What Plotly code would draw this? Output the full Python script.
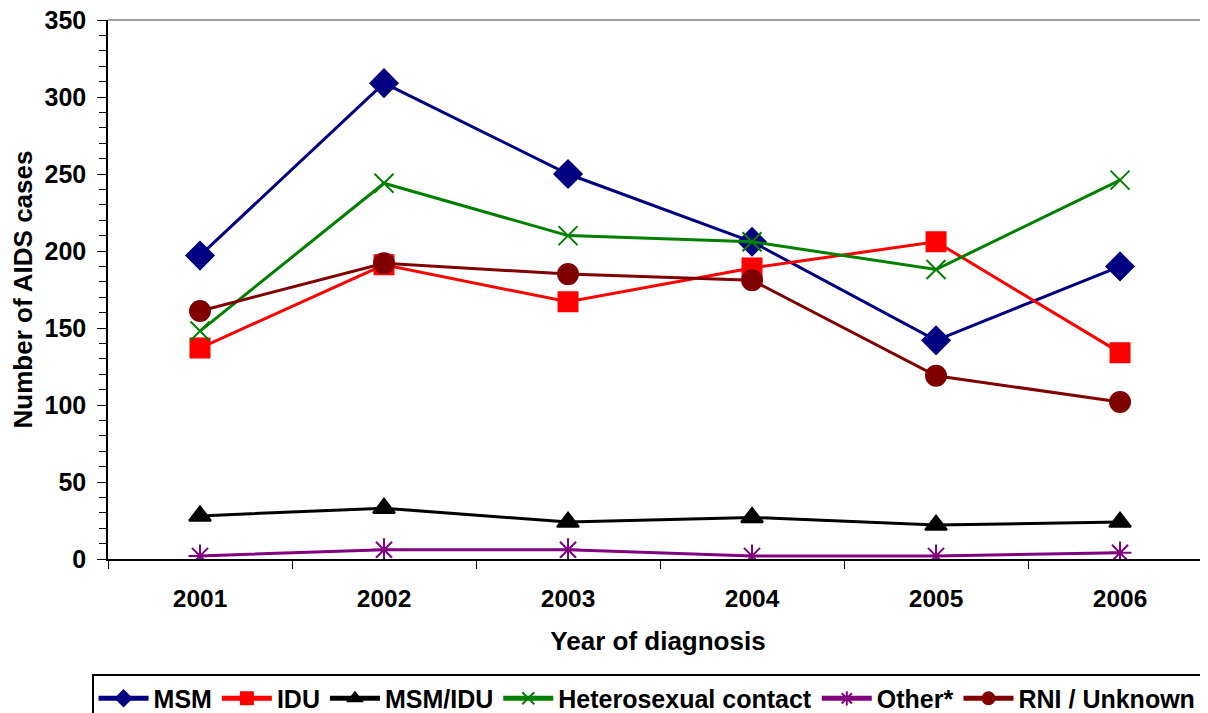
import plotly.graph_objects as go

years = ["2001", "2002", "2003", "2004", "2005", "2006"]
msm = [197, 309, 250, 206, 142, 190]
idu = [137, 191, 167, 189, 206, 134]
msm_idu = [28, 33, 24, 27, 22, 24]
hetero = [148, 244, 210, 206, 188, 246]
other = [2, 6, 6, 2, 2, 4]
rni = [161, 192, 185, 181, 119, 102]

series = [
    ("MSM", msm, "#000080", "diamond", 21),
    ("IDU", idu, "#FF0000", "square", 19),
    ("MSM/IDU", msm_idu, "#000000", "triangle-up", 19),
    ("Heterosexual contact", hetero, "#008000", "x-thin-open", 19),
    ("Other*", other, "#800080", "asterisk-open", 19),
    ("RNI / Unknown", rni, "#800000", "circle", 20),
]

fig = go.Figure()
for name, vals, color, sym, size in series:
    fig.add_trace(go.Scatter(
        x=years, y=vals, name=name, mode="lines+markers",
        line=dict(color=color, width=3),
        marker=dict(symbol=sym, size=size, color=color,
                    line=dict(color=color, width=2)),
    ))

font_family = "Liberation Sans, Arial, sans-serif"
fig.update_layout(
    width=1200, height=705,
    margin=dict(l=100, r=0, t=11.5, b=154, autoexpand=False),
    plot_bgcolor="white", paper_bgcolor="white",
    font=dict(family=font_family, size=20, color="black"),
    showlegend=True,
    legend=dict(
        orientation="h", x=-0.0145, xanchor="left", y=-0.2135, yanchor="top",
        bordercolor="black", borderwidth=1.5,
        font=dict(family=font_family, size=25, color="black", weight="bold"),
        itemwidth=50, itemsizing="constant", tracegroupgap=0,
    ),
    xaxis=dict(
        type="category", range=[-0.5, 5.478], automargin=False,
        showline=True, linecolor="black", linewidth=1.5,
        ticks="outside", ticklen=8, tickcolor="black", tickson="boundaries",
        showgrid=False, zeroline=False,
        tickfont=dict(family=font_family, size=24.5, weight="bold"),
        ticklabelstandoff=17, ticklabeloverflow="allow",
        title=dict(text="<b>Year of diagnosis</b>",
                   font=dict(family=font_family, size=26), standoff=21),
    ),
    yaxis=dict(
        range=[0, 350], dtick=50, automargin=False,
        showline=True, linecolor="black", linewidth=1.5,
        ticks="outside", ticklen=9, tickcolor="black",
        minor=dict(dtick=10, ticks="outside", ticklen=7, tickcolor="black"),
        showgrid=False, zeroline=False,
        tickfont=dict(family=font_family, size=25, weight="bold"),
        ticklabelstandoff=6, ticklabeloverflow="allow",
        title=dict(text="<b>Number of AIDS cases</b>",
                   font=dict(family=font_family, size=26), standoff=10),
    ),
    shapes=[dict(type="line", xref="paper", yref="paper", x0=0, x1=1, y0=1, y1=1,
                 line=dict(color="#808080", width=1.5))],
)

fig.write_html("out.html")
